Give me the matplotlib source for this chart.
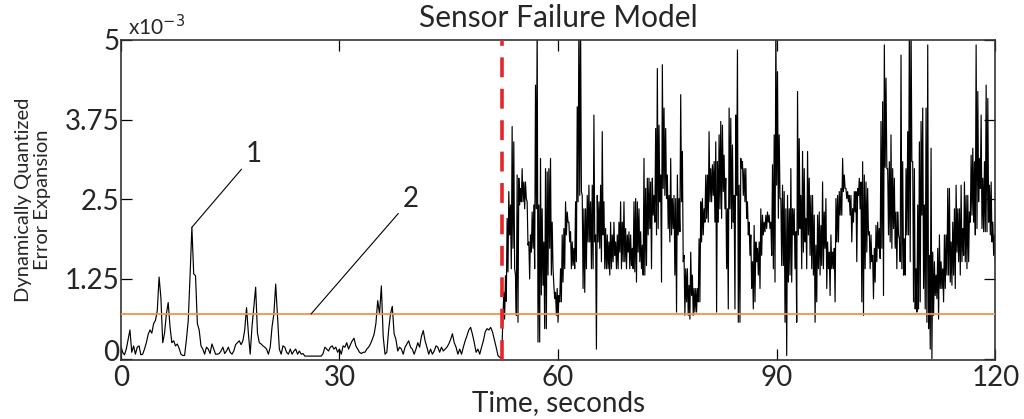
import numpy as np
import matplotlib.pyplot as plt
import matplotlib.transforms as mtransforms

plt.rcParams['font.family'] = ['Lato', 'DejaVu Sans']

# error expansion before the fault, sampled every 0.25 s (units of 1e-3)
err_pre = [
    0.20, 0.10, 0.06, 0.15, 0.30, 0.45, 0.10, 0.20, 0.07, 0.18,
    0.20, 0.06, 0.07, 0.15, 0.25, 0.38, 0.45, 0.40, 0.55, 0.60,
    0.75, 1.28, 0.95, 0.25, 0.40, 0.70, 0.88, 0.50, 0.25, 0.28,
    0.20, 0.23, 0.16, 0.07, 0.05, 0.05, 0.30, 0.60, 1.30, 2.06,
    1.33, 1.30, 0.55, 0.45, 0.20, 0.15, 0.07, 0.18, 0.15, 0.08,
    0.23, 0.15, 0.07, 0.07, 0.08, 0.12, 0.18, 0.08, 0.12, 0.18,
    0.10, 0.07, 0.12, 0.22, 0.25, 0.28, 0.22, 0.28, 0.45, 0.80,
    0.40, 0.07, 0.50, 0.81, 1.12, 0.40, 0.25, 0.23, 0.20, 0.18,
    0.15, 0.07, 0.18, 0.50, 0.70, 1.17, 0.65, 0.15, 0.07, 0.20,
    0.18, 0.10, 0.07, 0.15, 0.07, 0.12, 0.15, 0.07, 0.12, 0.07,
    0.08, 0.04, 0.04, 0.04, 0.04, 0.04, 0.04, 0.04, 0.04, 0.04,
    0.04, 0.08, 0.18, 0.15, 0.12, 0.18, 0.20, 0.15, 0.18, 0.10,
    0.15, 0.07, 0.20, 0.18, 0.25, 0.15, 0.22, 0.28, 0.32, 0.20,
    0.15, 0.10, 0.08, 0.10, 0.10, 0.15, 0.18, 0.23, 0.30, 0.38,
    0.55, 0.91, 0.70, 1.14, 0.35, 0.07, 0.10, 0.45, 0.70, 0.82,
    0.39, 0.30, 0.12, 0.18, 0.15, 0.07, 0.18, 0.23, 0.28, 0.18,
    0.15, 0.07, 0.15, 0.25, 0.18, 0.35, 0.44, 0.28, 0.18, 0.07,
    0.15, 0.07, 0.12, 0.20, 0.18, 0.10, 0.18, 0.12, 0.15, 0.18,
    0.23, 0.30, 0.39, 0.25, 0.18, 0.07, 0.15, 0.07, 0.18, 0.28,
    0.36, 0.45, 0.49, 0.38, 0.25, 0.10, 0.15, 0.07, 0.18, 0.28,
    0.42, 0.47, 0.45, 0.49, 0.42, 0.30, 0.18, 0.05, 0.02, 0.00,
]

# error expansion after the fault, 52.5 s .. 120 s (units of 1e-3)
err_post = [
    1.04, 0.62, 1.30, 0.90, 2.20, 1.36, 2.62, 1.94, 2.41, 1.41,
    3.64, 1.73, 3.40, 1.41, 1.31, 0.68, 2.88, 0.57, 2.83, 2.41,
    2.67, 2.46, 2.98, 2.46, 2.77, 2.35, 2.77, 2.51, 2.46, 1.78,
    1.83, 1.25, 1.94, 1.67, 2.30, 1.73, 2.41, 1.41, 4.29, 2.35,
    5.30, 0.26, 2.41, 0.26, 3.14, 1.00, 2.35, 1.15, 1.83, 0.47,
    2.98, 0.47, 2.93, 1.31, 2.98, 1.73, 3.14, 1.31, 2.14, 1.41,
    1.15, 0.94, 1.04, 0.68, 1.10, 0.57, 0.99, 0.89, 1.41, 0.89,
    1.94, 1.20, 2.04, 1.41, 2.46, 1.94, 2.30, 2.14, 2.14, 1.83,
    1.99, 1.41, 1.83, 1.46, 1.73, 1.41, 2.46, 1.52, 3.95, 2.46,
    5.30, 2.56, 5.30, 2.62, 2.56, 1.10, 2.35, 1.04, 2.35, 1.41,
    2.56, 1.83, 2.72, 1.83, 2.46, 1.41, 2.72, 1.41, 3.82, 1.83,
    1.94, 0.15, 2.56, 1.83, 2.46, 1.73, 2.72, 1.52, 3.56, 1.94,
    2.46, 1.41, 2.04, 1.41, 1.94, 1.41, 1.83, 1.31, 2.14, 1.41,
    1.94, 1.52, 2.14, 1.62, 1.83, 1.41, 1.94, 1.41, 2.14, 1.67,
    2.46, 1.41, 2.14, 1.52,
    2.46, 1.52, 2.04, 1.41, 1.94, 1.67, 1.99, 1.41, 1.94, 1.46,
    1.73, 1.41, 2.46, 1.36, 2.51, 1.20, 2.46, 1.67, 2.35, 1.52,
    1.99, 1.41, 1.78, 1.31, 3.14, 1.31, 2.67, 1.46, 2.83, 1.94,
    2.83, 2.04, 2.77, 1.41, 2.83, 2.25, 2.56, 2.14, 3.61, 1.94,
    4.55, 2.04, 3.66, 2.46, 2.88, 1.20, 4.61, 2.67, 3.93, 2.56,
    3.61, 2.51, 2.88, 2.04, 2.56, 1.83, 3.14, 1.94, 2.51, 2.04,
    2.56, 1.31, 2.51, 0.73, 2.88, 1.94, 2.51, 1.99, 4.14, 2.46,
    3.25, 1.52, 1.62, 0.68, 1.41, 0.89, 1.41, 0.68, 1.15, 0.62,
    1.67, 0.99, 1.31, 0.68, 1.10, 0.73, 1.10, 0.73, 1.10, 0.89,
    1.88, 0.89, 2.46, 1.83, 2.51, 1.94, 2.35, 2.14, 2.88, 2.20,
    2.88, 2.14, 3.56, 2.46, 2.98, 2.46, 3.04, 2.56, 3.09, 2.14,
    3.40, 0.73, 3.09, 2.14, 3.51, 2.35, 3.72, 2.20, 3.66, 2.62,
    3.19, 2.35, 2.83, 1.41, 2.35, 0.78, 3.93, 2.35, 3.77, 2.04,
    3.35, 2.14, 2.56, 0.78, 3.82, 2.56, 4.84, 0.57, 2.72, 0.57,
    3.14, 2.98, 3.09, 2.56, 2.98, 2.46, 2.98, 2.20, 2.46, 1.94,
    2.14, 1.62, 1.94, 1.10, 1.52, 0.78, 2.09, 0.89, 1.83, 1.52,
    1.73, 1.31, 1.83, 1.10, 2.35, 1.62, 2.25, 1.94, 2.14, 1.99,
    2.25, 2.04, 2.30, 2.14, 2.25, 2.04, 2.14, 1.62, 3.04, 1.41,
    3.51, 1.20, 5.30, 2.72, 4.50, 2.20, 3.51, 2.51, 2.51, 1.46,
    2.72, 1.46, 2.62, 0.57, 2.35, 0.05, 2.56, 1.20, 2.35, 1.31,
    2.98, 1.20, 2.35, 1.94, 2.35, 1.41, 1.99, 0.57, 4.19, 1.94,
    3.45, 2.04, 2.56, 1.41, 3.25, 1.67, 2.98, 1.83, 2.20, 1.41,
    3.25, 1.94, 2.83, 1.62, 2.56, 1.41, 2.56, 1.31, 2.25, 0.57,
    1.78, 0.89, 2.25, 1.41, 2.30, 1.31, 2.09, 1.46, 2.77, 1.41,
    2.30, 1.73, 2.51, 1.10, 1.83, 1.41, 1.67, 0.99, 1.94, 1.41,
    1.67, 1.41, 1.73, 0.89, 2.51, 1.83, 2.56, 1.83, 2.62, 2.25,
    2.67, 2.25, 3.14, 2.62, 2.88, 2.67, 2.67, 2.51, 2.62, 2.46,
    2.56, 2.25, 2.56, 1.83, 2.35, 2.14, 2.62, 2.30, 2.62, 1.52,
    2.67, 2.56, 2.83, 2.35, 2.77, 0.89, 3.09, 0.68, 2.88, 1.41,
    2.77, 1.67, 2.67, 1.94, 1.99, 1.41, 1.94, 1.52,
    1.62, 0.94, 1.73, 1.20, 2.09, 1.52, 2.14, 1.73, 2.04, 1.57,
    3.72, 1.73, 4.03, 0.99, 4.92, 3.00, 4.40, 2.98, 2.98, 1.94,
    3.09, 1.83, 3.51, 1.73, 2.98, 2.04, 2.83, 1.73, 2.30, 1.41,
    2.30, 1.94, 1.88, 1.52, 4.76, 1.41, 3.09, 1.31, 1.88, 1.31,
    2.98, 1.94, 3.56, 1.94, 5.30, 1.52, 5.30, 3.09, 3.09, 0.89,
    2.98, 0.78, 1.41, 0.73, 2.41, 0.78, 3.40, 0.89, 3.72, 2.25,
    3.93, 1.10, 2.41, 0.78, 3.93, 0.57, 4.92, 0.47, 1.62, 0.15,
    3.30, 0.00, 1.67, 0.68, 1.52, 0.99, 1.31, 0.94, 1.73, 0.62,
    1.94, 1.10, 1.52, 1.10, 1.41, 0.89, 1.94, 1.10, 1.94, 1.31,
    2.67, 1.31, 2.67, 1.20, 1.83, 1.15, 2.14, 1.31, 2.35, 1.10,
    2.72, 1.67, 2.35, 1.52, 2.35, 1.31, 2.72, 1.52, 2.04, 1.62,
    2.77, 1.52, 2.56, 1.41, 2.56, 1.52, 2.30, 2.14, 3.19, 2.25,
    3.30, 2.14, 3.09, 1.94, 4.92, 2.04, 4.19, 2.46, 3.14, 2.67,
    3.82, 2.04, 2.83, 1.99, 3.09, 1.99, 4.29, 1.99, 4.08, 2.14,
    2.72, 1.94, 2.77, 1.83, 2.14, 1.62, 1.94, 1.52,
]

failure_time = 52.3        # s
threshold = 0.70e-3        # detection level
peak_1 = (9.75, 2.06e-3)   # largest pre-fault excursion
label_1 = (18.3, 3.0e-3)
point_2 = (26.1, threshold)
label_2 = (39.8, 2.3e-3)

yticks = [0, 1.25e-3, 2.5e-3, 3.75e-3, 5e-3]
ytick_labels = ['0', '1.25', '2.5', '3.75', '5']
xticks = [0, 30, 60, 90, 120]

t_pre = np.arange(len(err_pre)) * 0.25
t_post = np.linspace(52.55, 120.0, len(err_post))
t = np.concatenate([t_pre, t_post])
err = np.concatenate([err_pre, err_post]) * 1e-3

txt = '#262626'
fig = plt.figure(figsize=(10.24, 4.19), dpi=100)
ax = fig.add_axes([0.118, 0.141, 0.854, 0.764])

ax.plot(t, err, color='black', lw=0.85, zorder=2)
ax.axhline(threshold, color='#F7914A', lw=1.3, zorder=3)
ax.axvline(failure_time, color='#E3262B', lw=2.6, dashes=(5.5, 3.2), zorder=4)

ax.annotate('1', xy=peak_1, xytext=label_1, fontsize=20, color=txt,
            ha='center', va='bottom',
            arrowprops=dict(arrowstyle='-', color='black', lw=0.8, shrinkA=2, shrinkB=0))
ax.annotate('2', xy=point_2, xytext=label_2, fontsize=20, color=txt,
            ha='center', va='bottom',
            arrowprops=dict(arrowstyle='-', color='black', lw=0.8, shrinkA=2, shrinkB=0))

ax.set_xlim(0, 120)
ax.set_ylim(-0.02e-3, 5e-3)
ax.set_xticks(xticks)
ax.set_yticks(yticks)
ax.set_yticklabels(ytick_labels)
ax.tick_params(direction='in', length=8, width=0.9, top=True, right=True,
               labelsize=20, labelcolor=txt)
ax.tick_params(axis='y', pad=1)
ax.tick_params(axis='x', pad=4)
for s in ax.spines.values():
    s.set_linewidth(1.2)
    s.set_color('#333333')

# lift the y "0" a little so it clears the x "0" in the corner
zero_lbl = ax.get_yticklabels()[0]
zero_lbl.set_transform(zero_lbl.get_transform() +
                       mtransforms.ScaledTranslation(0, 6 / 72, fig.dpi_scale_trans))

ax.text(0.008, 1.003, r'x10$^{-3}$', transform=ax.transAxes, fontsize=15,
        color=txt, ha='left', va='bottom')
fig.text(0.545, 0.957, 'Sensor Failure Model', fontsize=21.5, color=txt,
         ha='center', va='center')
ax.set_xlabel('Time, seconds', fontsize=20, color=txt, labelpad=-1)
ax.set_ylabel('Dynamically Quantized\nError Expansion', fontsize=14.5, color=txt,
              linespacing=1.1)
ax.yaxis.set_label_coords(-0.080, 0.5)

fig.savefig('out.png', dpi=100, facecolor='white')
